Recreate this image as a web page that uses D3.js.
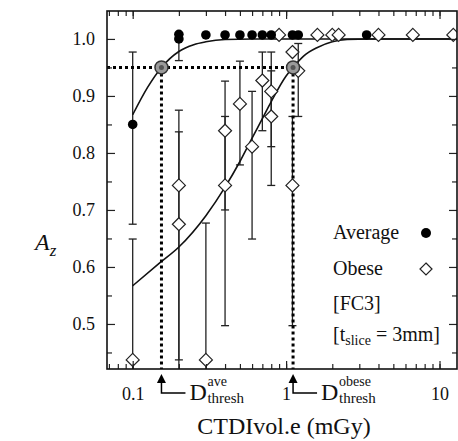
<!DOCTYPE html>
<html><head><meta charset="utf-8">
<script src="https://cdn.jsdelivr.net/npm/d3@7"></script>
<style>body{margin:0;background:#fff}svg{display:block}</style>
</head><body><svg id="c" width="458" height="441"></svg>
<script>
// ---- data ----
const aveDose = [0.1, 0.2, 0.2, 0.3, 0.4, 0.5, 0.6, 0.7, 0.8, 1.1, 1.2, 3.35];
const aveAz   = [0.85, 1.0, 1.008, 1.007, 1.007, 1.007, 1.007, 1.007, 1.007, 1.007, 1.007, 1.007];
const aveLo   = [0.675, 0.962, 1.008, 1.007, 1.007, 1.007, 1.007, 1.007, 1.007, 1.007, 1.007, 1.007];
const aveHi   = [0.977, 1.002, 1.008, 1.007, 1.007, 1.007, 1.007, 1.007, 1.007, 1.007, 1.007, 1.007];

const obeDose = [0.1, 0.2, 0.2, 0.3, 0.4, 0.4, 0.5, 0.6, 0.7, 0.8, 0.8, 0.9, 1.1, 1.1, 1.2, 1.6, 2.0, 2.2, 4.0, 6.7, 12.3];
const obeAz   = [0.437, 0.743, 0.675, 0.437, 0.839, 0.743, 0.886, 0.811, 0.927, 0.908, 0.864, 1.007, 0.977, 0.743, 0.944, 1.007, 1.007, 1.007, 1.007, 1.007, 1.007];
const obeLo   = [0.40, 0.40, 0.437, 0.40, 0.70, 0.497, 0.779, 0.649, 0.839, 0.811, 0.743, 1.007, 0.977, 0.497, 0.864, 1.007, 1.007, 1.007, 1.007, 1.007, 1.007];
const obeHi   = [0.649, 0.875, 0.837, 0.677, 0.926, 0.864, 0.961, 0.908, 0.977, 0.977, 0.944, 1.007, 0.977, 0.864, 0.992, 1.007, 1.007, 1.007, 1.007, 1.007, 1.007];

// fitted curves
const aveFitDose = [0.1, 0.125, 0.154, 0.2, 0.25, 0.3, 0.4, 0.6, 1, 13];
const aveFitAz   = [0.867, 0.915, 0.95, 0.978, 0.99, 0.995, 0.999, 1.0, 1.0, 1.0];
const obeFitDose = [0.1, 0.15, 0.2, 0.3, 0.4, 0.5, 0.6, 0.7, 0.8, 1.0, 1.11, 1.3, 1.6, 2.0, 2.5, 3.5, 13];
const obeFitAz   = [0.567, 0.607, 0.635, 0.69, 0.74, 0.785, 0.826, 0.86, 0.89, 0.935, 0.95, 0.97, 0.985, 0.995, 0.999, 1.0, 1.0];

const dThreshAve = 0.154, dThreshObese = 1.11, azThresh = 0.95;
const yTicks = [0.5, 0.6, 0.7, 0.8, 0.9, 1.0];
const yMinor = [0.45, 0.55, 0.65, 0.75, 0.85, 0.95];
const xTickVals = [0.1, 1, 10];
const xTickLabels = ["0.1", "1", "10"];

// ---- drawing ----
const FONT = "'Liberation Serif', 'Times New Roman', Times, serif";
const L = 107, T = 11, R = 457, B = 369;
const svg = d3.select("#c");
const x = d3.scaleLog().domain([0.068, 13]).range([L, R]);
const y = d3.scaleLinear().domain([0.421, 1.049]).range([B, T]);

svg.append("clipPath").attr("id", "clip").append("rect").attr("x", L).attr("y", T).attr("width", R - L).attr("height", B - T);
const g = svg.append("g").attr("clip-path", "url(#clip)");

const xMinor = [];
[0.01, 0.1, 1, 10].forEach(d => { for (let k = 1; k <= 9; k++) { const v = d * k; if (v >= 0.068 && v <= 13) xMinor.push(v); } });

const axB = d3.axisBottom(x).tickValues(xMinor).tickSize(-5).tickFormat("");
const axT = d3.axisTop(x).tickValues(xMinor).tickSize(-5).tickFormat("");
const axL = d3.axisLeft(y).tickValues(yMinor).tickSize(-5).tickFormat("");
const axR = d3.axisRight(y).tickValues(yMinor).tickSize(-5).tickFormat("");
const ax = [
  svg.append("g").attr("transform", `translate(0,${B})`).call(axB),
  svg.append("g").attr("transform", `translate(0,${T})`).call(axT),
  svg.append("g").attr("transform", `translate(${L},0)`).call(axL),
  svg.append("g").attr("transform", `translate(${R},0)`).call(axR),
  svg.append("g").attr("transform", `translate(0,${B})`).call(d3.axisBottom(x).tickValues(xTickVals).tickSize(-8).tickPadding(18).tickFormat((d, i) => xTickLabels[i])),
  svg.append("g").attr("transform", `translate(0,${T})`).call(d3.axisTop(x).tickValues(xTickVals).tickSize(-8).tickFormat("")),
  svg.append("g").attr("transform", `translate(${L},0)`).call(d3.axisLeft(y).tickValues(yTicks).tickSize(-8).tickPadding(12).tickFormat(d3.format(".1f"))),
  svg.append("g").attr("transform", `translate(${R},0)`).call(d3.axisRight(y).tickValues(yTicks).tickSize(-8).tickFormat(""))
];
ax.forEach(a => { a.attr("font-family", null).attr("font-size", null); a.select(".domain").remove(); a.selectAll("line").attr("stroke", "#222").attr("stroke-width", 1.2); a.selectAll("text").style("font-size", "18px").attr("fill", "#111"); });

svg.append("rect").attr("x", L).attr("y", T).attr("width", R - L).attr("height", B - T).attr("fill", "none").attr("stroke", "#111").attr("stroke-width", 1.6);

function bars(dose, lo, hi) {
  dose.forEach((d, i) => {
    if (hi[i] - lo[i] < 0.001) return;
    const cx = x(d);
    g.append("line").attr("x1", cx).attr("x2", cx).attr("y1", y(lo[i])).attr("y2", y(hi[i])).attr("stroke", "#222").attr("stroke-width", 1.3);
    [lo[i], hi[i]].forEach(v => g.append("line").attr("x1", cx - 4).attr("x2", cx + 4).attr("y1", y(v)).attr("y2", y(v)).attr("stroke", "#222").attr("stroke-width", 1.3));
  });
}
bars(aveDose, aveLo, aveHi);
bars(obeDose, obeLo, obeHi);

const line = d3.line().x(d => x(d[0])).y(d => y(d[1])).curve(d3.curveMonotoneX);
g.append("path").datum(aveFitDose.map((d, i) => [d, aveFitAz[i]])).attr("d", line).attr("fill", "none").attr("stroke", "#111").attr("stroke-width", 1.6);
g.append("path").datum(obeFitDose.map((d, i) => [d, obeFitAz[i]])).attr("d", line).attr("fill", "none").attr("stroke", "#111").attr("stroke-width", 1.6);

function dl(x1, y1, x2, y2) { g.append("line").attr("x1", x1).attr("y1", y1).attr("x2", x2).attr("y2", y2).attr("stroke", "#000").attr("stroke-width", 3).attr("stroke-dasharray", "3,3"); }
dl(L, y(azThresh), x(dThreshObese), y(azThresh));
dl(x(dThreshAve), y(azThresh), x(dThreshAve), B);
dl(x(dThreshObese), y(azThresh), x(dThreshObese), B);

const diamond = s => `M0,${-s}L${s},0L0,${s}L${-s},0Z`;
obeDose.forEach((d, i) => g.append("path").attr("d", diamond(6.5)).attr("transform", `translate(${x(d)},${y(obeAz[i])})`).attr("fill", "#fff").attr("stroke", "#222").attr("stroke-width", 1.2));
aveDose.forEach((d, i) => g.append("circle").attr("cx", x(d)).attr("cy", y(aveAz[i])).attr("r", 4.8).attr("fill", "#000"));

[dThreshAve, dThreshObese].forEach(d => {
  g.append("circle").attr("cx", x(d)).attr("cy", y(azThresh)).attr("r", 6.5).attr("fill", "#9a9a9a").attr("stroke", "#333").attr("stroke-width", 1.5);
  g.append("circle").attr("cx", x(d)).attr("cy", y(azThresh)).attr("r", 2.5).attr("fill", "#555");
});

[[dThreshAve, "ave"], [dThreshObese, "obese"]].forEach(([d, sup]) => {
  const cx = x(d);
  svg.append("path").attr("d", `M${cx},${B + 5}L${cx - 4.5},${B + 14}L${cx + 4.5},${B + 14}Z`).attr("fill", "#000");
  svg.append("path").attr("d", `M${cx},${B + 14}V${B + 24}H${cx + 24}`).attr("fill", "none").attr("stroke", "#000").attr("stroke-width", 1.5);
  svg.append("text").attr("x", cx + 28).attr("y", B + 31).style("font-size", "24px").text("D");
  const tx = cx + 46;
  svg.append("text").attr("x", tx).attr("y", B + 17).style("font-size", "14px").text(sup);
  svg.append("text").attr("x", tx).attr("y", B + 34).style("font-size", "15px").text("thresh");
});

svg.append("text").attr("x", 284).attr("y", 434).attr("text-anchor", "middle").style("font-size", "24px").text("CTDIvol.e (mGy)");
const az = svg.append("text").attr("x", 35).attr("y", 250).style("font-size", "24px").style("font-style", "italic");
az.append("tspan").text("A");
az.append("tspan").attr("dy", 6).style("font-size", "17px").text("z");

const lg = svg.append("g");
lg.append("text").attr("x", 333).attr("y", 239).style("font-size", "20px").text("Average");
lg.append("circle").attr("cx", 426).attr("cy", 233).attr("r", 5).attr("fill", "#000");
lg.append("text").attr("x", 333).attr("y", 275).style("font-size", "20px").text("Obese");
lg.append("path").attr("d", diamond(6)).attr("transform", "translate(426,269)").attr("fill", "#fff").attr("stroke", "#222").attr("stroke-width", 1.2);
lg.append("text").attr("x", 333).attr("y", 310).style("font-size", "20px").text("[FC3]");
const ts = lg.append("text").attr("x", 333).attr("y", 341).style("font-size", "20px");
ts.append("tspan").text("[t");
ts.append("tspan").attr("dy", 4).style("font-size", "14px").text("slice");
ts.append("tspan").attr("dy", -4).text(" = 3mm]");

svg.selectAll("text").style("font-family", FONT).style("fill", "#111");
</script></body></html>
